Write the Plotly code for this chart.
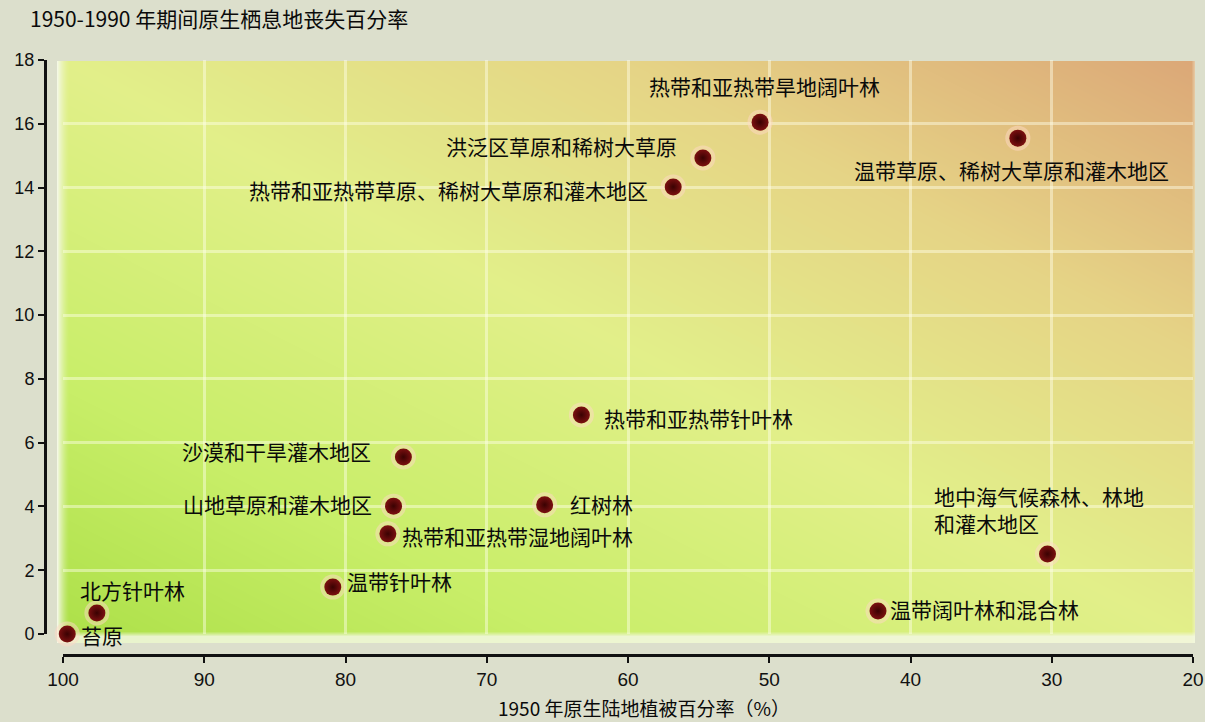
import base64
import struct
import zlib

import numpy as np
import plotly.graph_objects as go

# ---------------- data ----------------
biomes = [
    "苔原",
    "北方针叶林",
    "温带针叶林",
    "热带和亚热带湿地阔叶林",
    "山地草原和灌木地区",
    "沙漠和干旱灌木地区",
    "红树林",
    "热带和亚热带针叶林",
    "热带和亚热带草原、稀树大草原和灌木地区",
    "洪泛区草原和稀树大草原",
    "热带和亚热带旱地阔叶林",
    "温带草原、稀树大草原和灌木地区",
    "地中海气候森林、林地<br>和灌木地区",
    "温带阔叶林和混合林",
]
vegetation_1950 = [99.7, 97.6, 80.9, 77.0, 76.6, 75.9, 65.9, 63.3, 56.8, 54.7, 50.65, 32.4, 30.3, 42.3]
habitat_loss = [0.0, 0.66, 1.47, 3.14, 4.01, 5.55, 4.05, 6.87, 14.02, 14.93, 16.05, 15.55, 2.51, 0.72]

x_ticks = [100, 90, 80, 70, 60, 50, 40, 30, 20]
y_ticks = [0, 2, 4, 6, 8, 10, 12, 14, 16, 18]

title_text = "1950-1990 年期间原生栖息地丧失百分率"
x_title_text = "1950 年原生陆地植被百分率（%）"

# label placement (style): xanchor, xshift, yshift, align
label_style = [
    ("left", 12, -1, "left"),
    ("left", -19, 23, "left"),
    ("left", 12, 6, "left"),
    ("left", 12, -2, "left"),
    ("right", -20, 2, "left"),
    ("right", -30, 6, "left"),
    ("left", 23, 1, "left"),
    ("left", 21, -3, "left"),
    ("right", -23, -3, "left"),
    ("right", -24, 12, "left"),
    ("center", 4, 36, "center"),
    ("center", -6, -32, "center"),
    ("left", -116, 44, "left"),
    ("left", 10, 2, "left"),
]

# ---------------- background gradient image ----------------
W, H = 1138, 582
u = np.linspace(0, 1, W)[None, :]
v = np.linspace(1, 0, H)[:, None]
t = 0.5 * u + 0.5 * v
stops = [0.0, 0.22, 0.5, 0.75, 1.0]
cols = np.array([
    [0xac, 0xe0, 0x48],
    [0xc8, 0xee, 0x68],
    [0xe2, 0xf0, 0x8a],
    [0xe6, 0xd4, 0x86],
    [0xdc, 0xa8, 0x78],
], dtype=float)
img = np.zeros((H, W, 3))
for c in range(3):
    img[:, :, c] = np.interp(t, stops, cols[:, c])
white = np.array([0xf4, 0xf8, 0xe4], dtype=float)
xs = np.arange(W)[None, :]
fl = np.clip(1 - xs / 12.0, 0, 1) ** 1.5
img = img * (1 - fl[..., None]) + white * fl[..., None]
ys = np.arange(H)[:, None]
fb = np.clip((ys - (H - 12)) / 5.0, 0, 1) * 0.85
img = img * (1 - fb[..., None]) + white * fb[..., None]
fr = np.clip((xs - (W - 4)) / 4.0, 0, 1) * 0.5
img = img * (1 - fr[..., None]) + white * fr[..., None]
img = np.clip(img, 0, 255).astype(np.uint8)

diff = img.astype(np.int16).copy()
diff[:, 1:, :] = (img[:, 1:, :].astype(np.int16) - img[:, :-1, :].astype(np.int16)) % 256
diff = diff.astype(np.uint8).reshape(H, W * 3)
raw = b"".join(b"\x01" + diff[r].tobytes() for r in range(H))


def chunk(tag, data):
    return struct.pack(">I", len(data)) + tag + data + struct.pack(">I", zlib.crc32(tag + data) & 0xFFFFFFFF)


png = b"\x89PNG\r\n\x1a\n" + chunk(b"IHDR", struct.pack(">IIBBBBB", W, H, 8, 2, 0, 0, 0)) \
    + chunk(b"IDAT", zlib.compress(raw, 9)) + chunk(b"IEND", b"")
bg_uri = "data:image/png;base64," + base64.b64encode(png).decode()

# ---------------- figure ----------------
FIG_W, FIG_H = 1205, 722
ML, MR, MT, MB = 45, 10, 60, 67
PW = FIG_W - ML - MR
PH = FIG_H - MT - MB


def px_x(p):
    return (p - ML) / PW


def px_y(p):
    return (FIG_H - MB - p) / PH


CJK = "Noto Sans CJK SC"
fig = go.Figure()

# halo
fig.add_trace(go.Scatter(
    x=vegetation_1950, y=habitat_loss, mode="markers", hoverinfo="skip", cliponaxis=False,
    marker=dict(size=25, color="rgba(255,214,196,0.55)",
                gradient=dict(type="radial", color="rgba(255,245,210,0)"), line=dict(width=0)),
    showlegend=False,
))
# points
fig.add_trace(go.Scatter(
    x=vegetation_1950, y=habitat_loss, mode="markers", cliponaxis=False,
    text=[b.replace("<br>", "") for b in biomes], hovertemplate="%{text}<br>%{x}, %{y}<extra></extra>",
    marker=dict(size=17, color="#7c1010",
                gradient=dict(type="radial", color="#3a0202"), line=dict(width=0)),
    showlegend=False,
))

for name, xv, yv, (xa, xs_, ys_, al) in zip(biomes, vegetation_1950, habitat_loss, label_style):
    fig.add_annotation(
        x=xv, y=yv, xref="x", yref="y", text=name, showarrow=False,
        xanchor=xa, yanchor="middle", xshift=xs_, yshift=ys_, align=al,
        font=dict(family=CJK, size=21, color="#0a0a0a"),
    )

fig.add_annotation(
    x=px_x(28), y=px_y(18), xref="paper", yref="paper", text=title_text, showarrow=False,
    xanchor="left", yanchor="middle", font=dict(family=CJK, size=21, color="#0a0a0a"),
)
fig.add_annotation(
    x=px_x(644), y=px_y(707), xref="paper", yref="paper", text=x_title_text, showarrow=False,
    xanchor="center", yanchor="middle", font=dict(family=CJK, size=19, color="#0a0a0a"),
)

fig.add_layout_image(
    source=bg_uri, xref="paper", yref="paper",
    x=px_x(57), y=px_y(61), sizex=(1195 - 57) / PW, sizey=(643 - 61) / PH,
    xanchor="left", yanchor="top", sizing="stretch", layer="below",
)

grid_col = "rgba(255,255,235,0.45)"
fig.update_layout(
    width=FIG_W, height=FIG_H,
    margin=dict(l=ML, r=MR, t=MT, b=MB, autoexpand=False),
    paper_bgcolor="#dcdfcc",
    plot_bgcolor="rgba(0,0,0,0)",
    xaxis=dict(
        domain=[px_x(63), px_x(1193)], range=[100, 20], anchor="free", position=0,
        automargin=False,
        tickvals=x_ticks, ticktext=[str(v) for v in x_ticks],
        ticks="outside", ticklen=6, tickwidth=2, tickcolor="#111111",
        showline=True, linewidth=3, linecolor="#111111",
        showgrid=True, gridcolor=grid_col, gridwidth=3, zeroline=False,
        tickfont=dict(family="Liberation Sans", size=19, color="#111111"),
    ),
    yaxis=dict(
        domain=[px_y(634), px_y(60)], range=[0, 18], anchor="free", position=0,
        automargin=False,
        tickvals=y_ticks, ticktext=[str(v) for v in y_ticks],
        ticks="outside", ticklen=6, tickwidth=2, tickcolor="#111111",
        showline=True, linewidth=3, linecolor="#111111",
        showgrid=True, gridcolor=grid_col, gridwidth=3, zeroline=False,
        tickfont=dict(family="Liberation Sans", size=18, color="#111111"),
    ),
)

fig.write_html(
    "out.html",
    config={"displayModeBar": False},
    post_script="document.body.style.margin='0';document.body.style.overflow='hidden';"
                "document.body.style.background='#dcdfcc';",
)
